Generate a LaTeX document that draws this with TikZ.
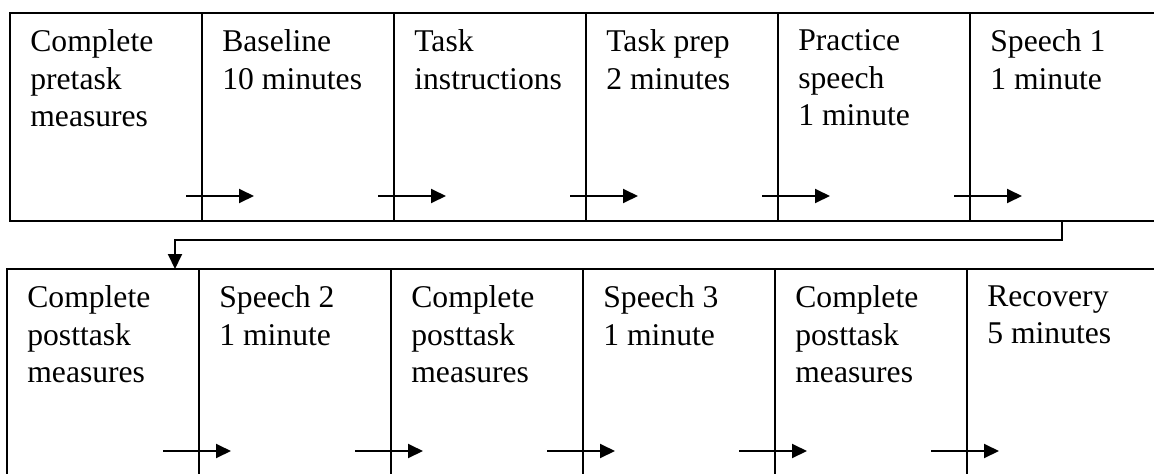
\documentclass[tikz,border=0pt]{standalone}
\usepackage{fontspec}
\setmainfont{Liberation Serif}
\usetikzlibrary{positioning,calc,arrows.meta}

\tikzset{
  stagebox/.style={draw, line width=1.1pt, minimum width=3.84cm, minimum height=4.16cm, inner sep=0pt, outer sep=0pt},
  stagetext/.style={align=left, inner sep=0pt, font=\fontsize{18}{21.2}\selectfont, execute at begin node=\strut},
  flow/.style={-{Triangle[length=0.3cm,width=0.28cm]}, line width=1.1pt}
}

\begin{document}
\begin{tikzpicture}
        \useasboundingbox (0,0) rectangle (23.08,-9.46);

        % First row of stages
        \node[stagebox, anchor=north west] (b1) at (0.2,-0.26) {};
        \node[stagebox, right=0pt of b1] (b2) {};
        \node[stagebox, right=0pt of b2] (b3) {};
        \node[stagebox, right=0pt of b3] (b4) {};
        \node[stagebox, right=0pt of b4] (b5) {};
        \node[stagebox, right=0pt of b5] (b6) {};
        \node[stagetext, below right=0.33cm and 0.4cm of b1.north west] (t1) {Complete\\pretask\\measures};
        \node[stagetext, below right=0.33cm and 0.4cm of b2.north west] (t2) {Baseline\\10 minutes};
        \node[stagetext, below right=0.33cm and 0.4cm of b3.north west] (t3) {Task\\instructions};
        \node[stagetext, below right=0.33cm and 0.4cm of b4.north west] (t4) {Task prep\\2 minutes};
        \node[stagetext, below right=0.33cm and 0.4cm of b5.north west] (t5) {Practice\\speech\\1 minute};
        \node[stagetext, below right=0.33cm and 0.4cm of b6.north west] (t6) {Speech 1\\1 minute};

        % Second row of stages
        \node[stagebox, anchor=north west] (c1) at (0.14,-5.38) {};
        \node[stagebox, right=0pt of c1] (c2) {};
        \node[stagebox, right=0pt of c2] (c3) {};
        \node[stagebox, right=0pt of c3] (c4) {};
        \node[stagebox, right=0pt of c4] (c5) {};
        \node[stagebox, right=0pt of c5] (c6) {};
        \node[stagetext, below right=0.33cm and 0.4cm of c1.north west] (s1) {Complete\\posttask\\measures};
        \node[stagetext, below right=0.33cm and 0.4cm of c2.north west] (s2) {Speech 2\\1 minute};
        \node[stagetext, below right=0.33cm and 0.4cm of c3.north west] (s3) {Complete\\posttask\\measures};
        \node[stagetext, below right=0.33cm and 0.4cm of c4.north west] (s4) {Speech 3\\1 minute};
        \node[stagetext, below right=0.33cm and 0.4cm of c5.north west] (s5) {Complete\\posttask\\measures};
        \node[stagetext, below right=0.33cm and 0.4cm of c6.north west] (s6) {Recovery\\5 minutes};

        % Step arrows, first row
        \draw[flow] ([shift={(-0.32,0.5)}]b1.south east) -- ++(1.36,0);
        \draw[flow] ([shift={(-0.32,0.5)}]b2.south east) -- ++(1.36,0);
        \draw[flow] ([shift={(-0.32,0.5)}]b3.south east) -- ++(1.36,0);
        \draw[flow] ([shift={(-0.32,0.5)}]b4.south east) -- ++(1.36,0);
        \draw[flow] ([shift={(-0.32,0.5)}]b5.south east) -- ++(1.36,0);

        % Step arrows, second row
        \draw[flow] ([shift={(-0.72,0.52)}]c1.south east) -- ++(1.36,0);
        \draw[flow] ([shift={(-0.72,0.52)}]c2.south east) -- ++(1.36,0);
        \draw[flow] ([shift={(-0.72,0.52)}]c3.south east) -- ++(1.36,0);
        \draw[flow] ([shift={(-0.72,0.52)}]c4.south east) -- ++(1.36,0);
        \draw[flow] ([shift={(-0.72,0.52)}]c5.south east) -- ++(1.36,0);

        % Wrap to second row
        \draw[flow] ([xshift=1.84cm]b6.south west) -- ++(0,-0.38) -| ([xshift=-0.48cm]c1.north east);
    \end{tikzpicture}
\end{document}
